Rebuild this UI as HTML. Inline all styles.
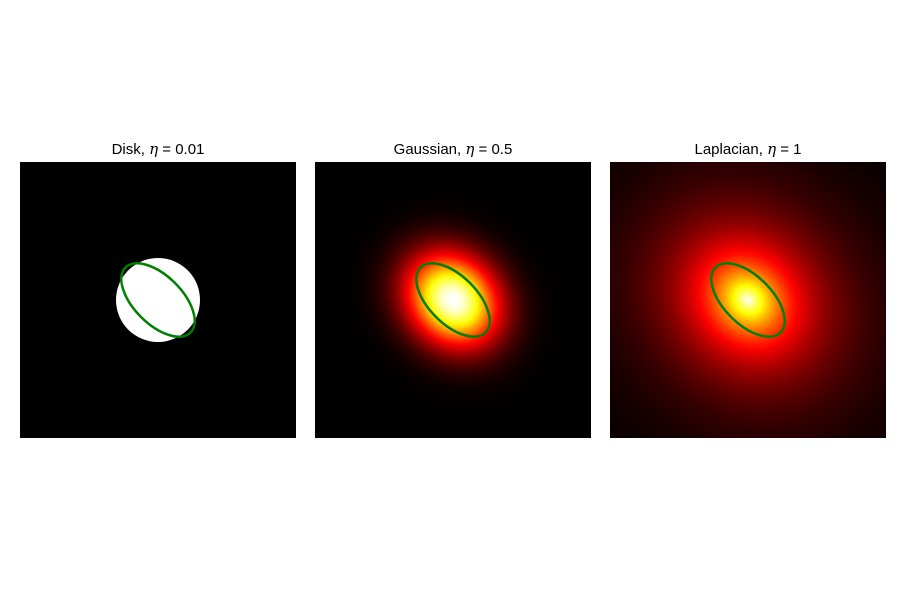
<!DOCTYPE html>
<html><head><meta charset="utf-8"><style>
html,body{margin:0;background:#fff;overflow:hidden;width:900px;height:600px;}
svg{display:block;font-family:"Liberation Sans",sans-serif;}
</style></head><body>
<svg id="fig" width="900" height="600" xmlns="http://www.w3.org/2000/svg">
<defs id="defs"></defs>
<g id="panels"></g>
</svg>
<script>
const titlePrefix = ["Disk, ", "Gaussian, ", "Laplacian, "];
const titleEta = ["0.01", "0.5", "1"];
const kernels = ["disk", "gaussian", "laplacian"];
const panelX = [20, 315, 610];
const ellipseA = [46, 46, 46];
const ellipseB = [24, 24, 24];
const ellipseAngle = [45, 45, 45];
const NS = "http://www.w3.org/2000/svg";
const defs = document.getElementById('defs');
const g = document.getElementById('panels');
const PY = 162, S = 276;
function hot(v){v=Math.max(0,Math.min(1,v));
  const r=Math.min(1,v/0.365), gg=Math.max(0,Math.min(1,(v-0.365)/0.381)), b=Math.max(0,Math.min(1,(v-0.746)/0.254));
  return `rgb(${Math.round(r*255)},${Math.round(gg*255)},${Math.round(b*255)})`;}
function mk(t,a,p){const e=document.createElementNS(NS,t);for(const k in a)e.setAttribute(k,a[k]);(p||g).appendChild(e);return e;}
kernels.forEach((k,i)=>{
  const x0=panelX[i], cx=x0+S/2, cy=PY+S/2;
  const grp=mk('g',{});
  
  
  const bg=mk('rect',{x:x0,y:PY,width:S,height:S,fill:'#000'},grp);
  
  
  if(k==='disk'){
    const d=mk('circle',{cx:cx,cy:cy,r:42,fill:'#fff'},grp);
    
    
  } else {
    const R=220, id='grad'+i;
    const sx = k==='gaussian'?1.1:1.08, sy = k==='gaussian'?0.93:0.94;
    const gr=mk('radialGradient',{id:id,gradientUnits:'userSpaceOnUse',cx:cx,cy:cy,r:R,
      gradientTransform:`translate(${cx},${cy}) rotate(45) scale(${sx},${sy}) translate(${-cx},${-cy})`},defs);
    for(let j=0;j<=80;j++){const t=j/80, r=t*R;
      const v = k==='gaussian' ? Math.exp(-r*r/(2*31*31)) : Math.exp(-r/48);
      mk('stop',{offset:t,'stop-color':hot(v)},gr);}
    const ov=mk('rect',{x:x0,y:PY,width:S,height:S,fill:`url(#${id})`},grp);
    
    
  }
  const el=mk('ellipse',{cx:cx,cy:cy,rx:ellipseA[i],ry:ellipseB[i],fill:'none',stroke:'#008000','stroke-width':2.5,
    transform:`rotate(${ellipseAngle[i]} ${cx} ${cy})`},grp);
  
  
  const tt=mk('text',{x:cx,y:154,'text-anchor':'middle','font-size':15,fill:'#000'},grp);
  tt.appendChild(document.createTextNode(titlePrefix[i]));
  const it=mk('tspan',{'font-style':'italic','font-family':'DejaVu Serif, serif'},tt);
  it.textContent='η';
  tt.appendChild(document.createTextNode(' = '+titleEta[i]));
  
  
});
</script>
</body></html>
